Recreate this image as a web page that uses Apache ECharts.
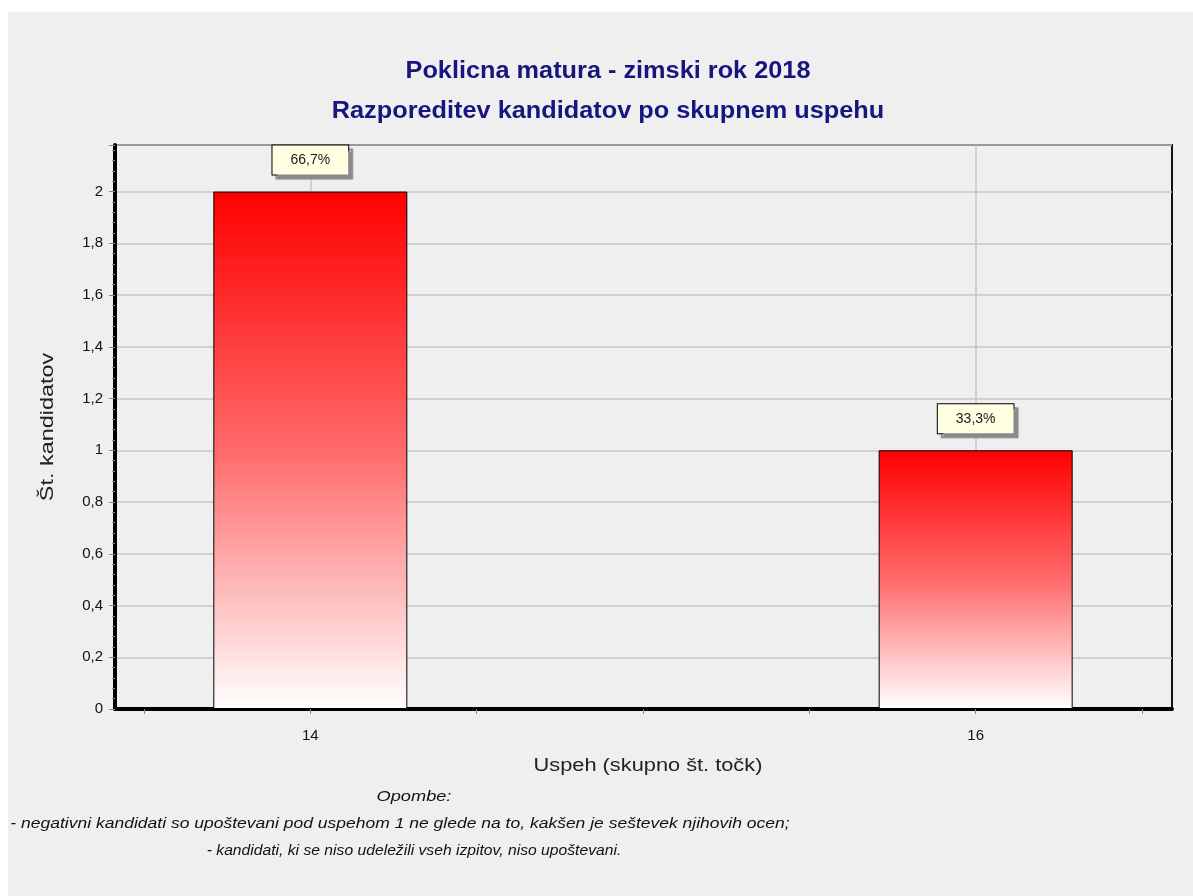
<!DOCTYPE html>
<html>
<head>
<meta charset="utf-8">
<script src="https://cdn.jsdelivr.net/npm/echarts@6/dist/echarts.min.js"></script>
<style>
html,body{margin:0;padding:0;background:#ffffff;}
#chart{width:1193px;height:896px;}
</style>
</head>
<body>
<div id="chart"></div>
<script>
const titleLines = ['Poklicna matura - zimski rok 2018', 'Razporeditev kandidatov po skupnem uspehu'];
const xValues = [14, 16];
const yValues = [2, 1];
const percentLabels = ['66,7%', '33,3%'];
const xTickLabels = [14, 16];
const xAxisName = 'Uspeh (skupno št. točk)';
const yAxisName = 'Št. kandidatov';
const notes = [
  'Opombe:',
  '- negativni kandidati so upoštevani pod uspehom 1 ne glede na to, kakšen je seštevek njihovih ocen;',
  '- kandidati, ki se niso udeležili vseh izpitov, niso upoštevani.'
];

const FONT = '"Liberation Sans", Arial, sans-serif';
const chart = echarts.init(document.getElementById('chart'));

const barData = xValues.map((x, i) => ({
  value: [x, yValues[i]],
  label: { formatter: percentLabels[i] }
}));

const noteStyle = { fontFamily: FONT, fontSize: 14, fontStyle: 'italic', fill: '#111', align: 'center', verticalAlign: 'middle' };

const option = {
  backgroundColor: '#efefef',
  animation: false,
  grid: [
    { left: 115, right: 21, top: 145, bottom: 187, show: true, borderColor: '#111', borderWidth: 2, backgroundColor: 'transparent' },
    { left: 144, right: 51, top: 145, bottom: 187 }
  ],
  xAxis: [
    {
      type: 'value', gridIndex: 0, min: 0, max: 1,
      axisLine: { show: true, lineStyle: { color: '#000', width: 4 } },
      axisTick: { show: false }, axisLabel: { show: false }, splitLine: { show: false }
    },
    {
      type: 'value', gridIndex: 1, min: 13.5, max: 16.5, interval: 0.5,
      axisLine: { show: false },
      axisTick: { show: true, length: 5, lineStyle: { color: '#888', width: 1 } },
      axisLabel: {
        show: true, margin: 19, fontFamily: FONT, fontSize: 15, color: '#111',
        formatter: v => (xTickLabels.indexOf(v) >= 0 ? String(v) : '')
      },
      splitLine: { show: false }
    }
  ],
  yAxis: [
    {
      type: 'value', gridIndex: 0, min: 0, max: 2.18, interval: 0.2,
      axisLine: { show: true, lineStyle: { color: '#000', width: 4 } },
      axisTick: { show: true, length: 6, lineStyle: { color: '#888', width: 1 } },
      minorTick: { show: true, splitNumber: 5, length: 3, lineStyle: { color: '#888', width: 1 } },
      axisLabel: {
        margin: 12, fontFamily: FONT, fontSize: 15, color: '#111', showMaxLabel: false,
        formatter: v => (Math.abs(v - 2.18) < 1e-6 ? '' : String(+v.toFixed(1)).replace('.', ','))
      },
      splitLine: { show: true, lineStyle: { color: '#c6c6c6', width: 1.5 } }
    },
    {
      type: 'value', gridIndex: 1, min: 0, max: 2.18, show: false
    }
  ],
  series: [
    {
      type: 'bar', xAxisIndex: 1, yAxisIndex: 1, z: 2,
      barWidth: 194,
      data: barData,
      itemStyle: {
        color: new echarts.graphic.LinearGradient(0, 0, 0, 1, [
          { offset: 0, color: '#ff0000' },
          { offset: 0.5, color: '#ff6a6a' },
          { offset: 1, color: '#ffffff' }
        ]),
        borderColor: '#000', borderWidth: 1
      },
      label: {
        show: true, position: 'top', distance: 17,
        fontFamily: FONT, fontSize: 14, color: '#1a1a1a',
        backgroundColor: '#ffffe1', borderColor: '#000', borderWidth: 1,
        padding: [8, 18, 7, 18],
        shadowColor: '#8a8a8a', shadowOffsetX: 4, shadowOffsetY: 4, shadowBlur: 1
      },
      markLine: {
        silent: true, z: 1, symbol: 'none',
        label: { show: false },
        lineStyle: { color: '#c6c6c6', type: 'solid', width: 1.5 },
        data: xTickLabels.map(v => ({ xAxis: v }))
      }
    }
  ],
  graphic: [
    { type: 'rect', shape: { x: 0, y: 0, width: 1193, height: 12 }, style: { fill: '#ffffff' }, silent: true },
    { type: 'rect', shape: { x: 0, y: 0, width: 8, height: 896 }, style: { fill: '#ffffff' }, silent: true },
    { type: 'text', x: 608, y: 72, scaleX: 1.1, style: { text: titleLines[0], fontFamily: FONT, fontSize: 23, fontWeight: 'bold', fill: '#16167e', align: 'center', verticalAlign: 'middle' } },
    { type: 'text', x: 608, y: 112, scaleX: 1.1, style: { text: titleLines[1], fontFamily: FONT, fontSize: 23, fontWeight: 'bold', fill: '#16167e', align: 'center', verticalAlign: 'middle' } },
    { type: 'text', x: 648, y: 766, scaleX: 1.21, style: { text: xAxisName, fontFamily: FONT, fontSize: 18, fill: '#222', align: 'center', verticalAlign: 'middle' } },
    { type: 'text', x: 48, y: 427, rotation: Math.PI / 2, scaleX: 1.3, style: { text: yAxisName, fontFamily: FONT, fontSize: 18, fill: '#222', align: 'center', verticalAlign: 'middle' } },
    { type: 'text', x: 414, y: 797, scaleX: 1.3, style: Object.assign({ text: notes[0] }, noteStyle) },
    { type: 'text', x: 400, y: 824, scaleX: 1.25, style: Object.assign({ text: notes[1] }, noteStyle) },
    { type: 'text', x: 414, y: 851, scaleX: 1.12, style: Object.assign({ text: notes[2] }, noteStyle) }
  ]
};
chart.setOption(option);
</script>
</body>
</html>
